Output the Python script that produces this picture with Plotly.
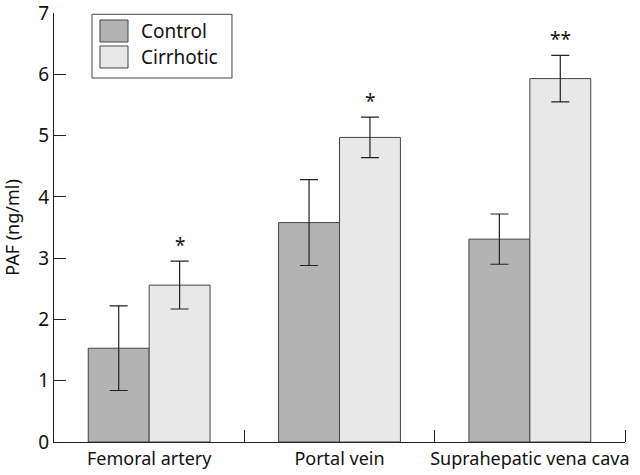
import plotly.graph_objects as go

categories = ["Femoral artery", "Portal vein", "Suprahepatic vena cava"]
control = [1.53, 3.58, 3.31]
control_err = [0.69, 0.70, 0.41]
cirrhotic = [2.56, 4.97, 5.93]
cirrhotic_err = [0.39, 0.33, 0.38]
significance = ["*", "*", "**"]
yticks = [0, 1, 2, 3, 4, 5, 6, 7]
series_names = ["Control", "Cirrhotic"]
series_colors = ["#b3b3b3", "#e8e8e8"]

FONT = "Noto Sans"
EDGE = "#444444"
xpos = list(range(len(categories)))

fig = go.Figure()
for name, vals, errs, col, grp in [
    (series_names[0], control, control_err, series_colors[0], "a"),
    (series_names[1], cirrhotic, cirrhotic_err, series_colors[1], "b"),
]:
    fig.add_trace(go.Bar(
        x=xpos, y=vals, name=name,
        marker=dict(color=col, line=dict(color=EDGE, width=1)),
        error_y=dict(type="data", array=errs, color="#222222", thickness=1.2, width=9),
        offsetgroup=grp,
    ))

for i, s in enumerate(significance):
    fig.add_annotation(
        x=i + 0.16, y=cirrhotic[i] + cirrhotic_err[i], text=s,
        showarrow=False, yanchor="bottom", yshift=1,
        font=dict(size=19, color="#111111", family=FONT),
    )

# legend box (drawn as paper-coordinate shapes to match the square swatches)
fig.add_shape(type="rect", xref="paper", yref="paper",
              x0=0.0665, x1=0.3117, y0=0.8485, y1=0.997,
              line=dict(color=EDGE, width=1), fillcolor="white", layer="above")
sw_y = [(0.9324, 0.9837), (0.8718, 0.9231)]
txt_y = [0.958, 0.8974]
for k in range(2):
    fig.add_shape(type="rect", xref="paper", yref="paper",
                  x0=0.0805, x1=0.1296, y0=sw_y[k][0], y1=sw_y[k][1],
                  line=dict(color=EDGE, width=1), fillcolor=series_colors[k], layer="above")
    fig.add_annotation(xref="paper", yref="paper", x=0.149, y=txt_y[k],
                       text=series_names[k], showarrow=False,
                       xanchor="left", yanchor="middle",
                       font=dict(size=19, family=FONT, color="#111111"))

fig.update_layout(
    width=640, height=475,
    margin=dict(l=54, r=15, t=13, b=33),
    plot_bgcolor="white", paper_bgcolor="white",
    barmode="group", bargap=0.36, bargroupgap=0,
    font=dict(family=FONT, size=18, color="#111111"),
    showlegend=False,
)
fig.update_xaxes(
    range=[-0.5, 2.5], tickvals=xpos, ticktext=categories,
    ticks="", showline=True, linecolor="#222222", linewidth=1,
    showgrid=False, zeroline=False, automargin=False,
    tickfont=dict(size=18, family=FONT),
    minor=dict(tickvals=[0.5, 1.5, 2.5], ticks="inside", ticklen=12,
               tickcolor="#222222", tickwidth=1, showgrid=False),
)
fig.update_yaxes(
    range=[0, 7], tickvals=yticks, ticks="inside", ticklen=12,
    tickcolor="#222222", showline=True, linecolor="#222222", linewidth=1,
    showgrid=False, zeroline=False, automargin=False,
    ticklabeloverflow="allow",
    tickfont=dict(size=19, family=FONT),
    title=dict(text="PAF (ng/ml)", font=dict(size=18, family=FONT), standoff=14),
)

fig.write_html(
    "out.html",
    config={"displayModeBar": False},
    post_script="document.body.style.margin='0';document.body.style.padding='0';",
)
